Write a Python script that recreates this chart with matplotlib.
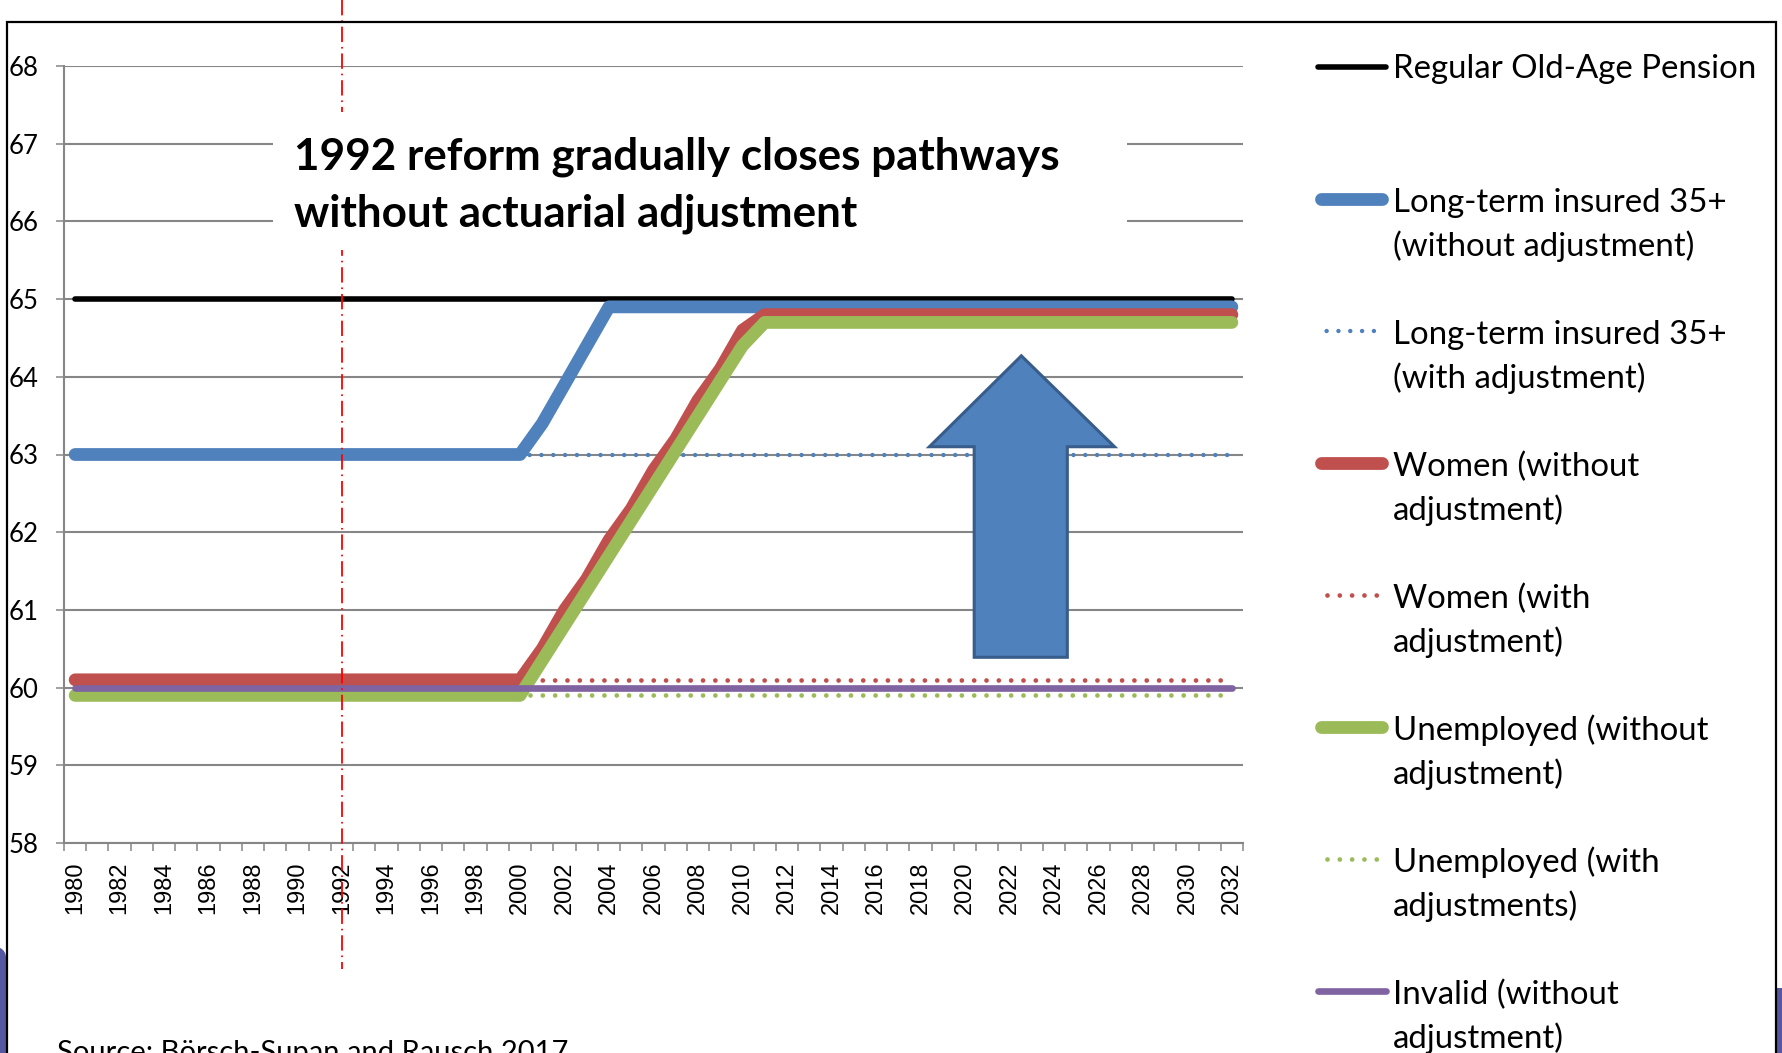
import matplotlib
matplotlib.use("Agg")
import matplotlib.pyplot as plt
import matplotlib.transforms as mtransforms
from matplotlib.lines import Line2D
from matplotlib.patches import Polygon, Rectangle, FancyBboxPatch

# ---------------------------------------------------------------- data
years = list(range(1980, 2033))          # category axis
tick_years = years[::2]
y_ticks = list(range(58, 69))

regular_x = [1980, 2032]
regular_y = [65.0, 65.0]

lt_x = [1980, 2000, 2001, 2002, 2003, 2004, 2032]
lt_y = [63.0, 63.0, 63.4, 63.9, 64.4, 64.9, 64.9]

lt_adj_x = [2000, 2032]
lt_adj_y = [63.0, 63.0]

women_x = [1980, 2000, 2001, 2002, 2003, 2004, 2005, 2006, 2007, 2008, 2009, 2010, 2011, 2032]
women_y = [60.1, 60.1, 60.5, 61.0, 61.4, 61.9, 62.3, 62.8, 63.2, 63.7, 64.1, 64.6, 64.8, 64.8]

women_adj_x = [2000, 2032]
women_adj_y = [60.1, 60.1]

unemp_x = [1980, 2000, 2001, 2002, 2003, 2004, 2005, 2006, 2007, 2008, 2009, 2010, 2011, 2032]
unemp_y = [59.9, 59.9, 60.35, 60.8, 61.25, 61.7, 62.15, 62.6, 63.05, 63.5, 63.95, 64.4, 64.7, 64.7]

unemp_adj_x = [2000, 2032]
unemp_adj_y = [59.9, 59.9]

invalid_x = [1980, 2032]
invalid_y = [60.0, 60.0]

reform_year = 1992

title = "1992 reform gradually closes pathways\nwithout actuarial adjustment"
source = "Source: Börsch-Supan and Rausch 2017"

labels = [
    "Regular Old-Age Pension",
    "Long-term insured 35+\n(without adjustment)",
    "Long-term insured 35+\n(with adjustment)",
    "Women (without\nadjustment)",
    "Women (with\nadjustment)",
    "Unemployed (without\nadjustment)",
    "Unemployed (with\nadjustments)",
    "Invalid (without\nadjustment)",
]

# ---------------------------------------------------------------- style
BLUE, RED, GREEN, PURPLE = "#4F81BD", "#C0504D", "#9BBB59", "#8064A2"
GRID = "#868686"
W, H = 1783, 1053
TEXT_FONT = ["Lato", "DejaVu Sans"]
THICK = 9.2
DOTS = (0.5, (0.01, 2.6))


def fx(px):
    return px / W


def fy(py):
    return 1 - py / H


def cat(xs):
    return [x - years[0] for x in xs]


fig = plt.figure(figsize=(W / 100, H / 100), dpi=100)
fig.patch.set_facecolor("white")

ax = fig.add_axes([fx(64), fy(843), fx(1243) - fx(64), fy(66) - fy(843)])
ax.set_xlim(-0.5, len(years) - 0.5)
ax.set_ylim(58, 68)

# series, in drawing order
solid = dict(solid_capstyle="round", solid_joinstyle="round")
dot_style = dict(dash_capstyle="round")
series = [
    (regular_x, regular_y, dict(color="black", lw=4.0, **solid)),
    (lt_x, lt_y, dict(color=BLUE, lw=THICK, **solid)),
    (lt_adj_x, lt_adj_y, dict(color=BLUE, lw=3.2, linestyle=(0.5, (0.01, 2.65)), **dot_style)),
    (women_x, women_y, dict(color=RED, lw=THICK, **solid)),
    (women_adj_x, women_adj_y, dict(color=RED, lw=3.4, linestyle=DOTS, **dot_style)),
    (unemp_x, unemp_y, dict(color=GREEN, lw=THICK, **solid)),
    (unemp_adj_x, unemp_adj_y, dict(color=GREEN, lw=3.4, linestyle=DOTS, **dot_style)),
    (invalid_x, invalid_y, dict(color=PURPLE, lw=4.8, **solid)),
]
for i, (xs, ys, kw) in enumerate(series):
    ax.plot(cat(xs), ys, zorder=3 + i * 0.1, **kw)

# axes and grid
for side in ("top", "right"):
    ax.spines[side].set_visible(False)
for side in ("left", "bottom"):
    ax.spines[side].set_color(GRID)
    ax.spines[side].set_linewidth(1.5)
ax.set_yticks(y_ticks)
ax.yaxis.grid(True, color=GRID, lw=1.5, zorder=1)
ax.set_axisbelow(True)
ax.tick_params(axis="y", length=6, width=1.1, color=GRID, pad=12,
               labelsize=18.5)
for lab in ax.get_yticklabels():
    lab.set_fontfamily(TEXT_FONT)

ax.set_xticks(cat(tick_years))
ax.set_xticklabels([str(y) for y in tick_years], rotation=90,
                   fontsize=17, fontfamily="Liberation Sans")
ax.set_xticks([i - 0.5 for i in range(len(years) + 1)], minor=True)
ax.tick_params(axis="x", which="major", length=0, pad=13.5)
ax.tick_params(axis="x", which="minor", length=5.5, width=1.1, color=GRID)

# reform marker: dash-dot line running past the plot area
blend = mtransforms.blended_transform_factory(ax.transData, fig.transFigure)
ax.plot([reform_year - years[0]] * 2, [1.0, fy(969)], transform=blend,
        color="red", lw=1.3, linestyle=(0, (8.5, 2.7, 0.9, 2.7)),
        clip_on=False, zorder=6)

# upward block arrow
arrow = Polygon(
    [(0.812, 0.627), (0.891, 0.510), (0.851, 0.510), (0.851, 0.239),
     (0.772, 0.239), (0.772, 0.510), (0.734, 0.510)],
    closed=True, transform=ax.transAxes, facecolor=BLUE,
    edgecolor="#385D8A", lw=2.2, zorder=7, joinstyle="miter")
ax.add_patch(arrow)

# headline on a white panel
fig.add_artist(Rectangle((fx(273), fy(250)), fx(1127) - fx(273), fy(112) - fy(250),
                         transform=fig.transFigure, facecolor="white",
                         edgecolor="none", zorder=5))
fig.text(fx(294), fy(226), title, fontsize=31.7, fontweight="bold",
         family=TEXT_FONT, va="baseline", ha="left", linespacing=1.48, zorder=6)

# legend drawn row by row
row_y = [67, 199, 331, 463, 595, 727, 859, 991]
line_gap = 46
for lab, (_, _, kw), ry in zip(labels, series, row_y):
    if "linestyle" in kw:
        x0, x1 = 1317, 1380
    elif kw["lw"] > 5:
        x0, x1 = 1321, 1382
    else:
        x0, x1 = 1318, 1386
    fig.add_artist(Line2D([fx(x0), fx(x1)], [fy(ry), fy(ry)],
                          transform=fig.transFigure, **kw))
    n_lines = lab.count("\n") + 1
    fig.text(fx(1393), fy(ry + 11 + (n_lines - 1) * line_gap), lab,
             fontsize=23.8, family=TEXT_FONT, va="baseline", ha="left",
             linespacing=1.48)

# source note at the foot
fig.text(fx(57), fy(1040), source, fontsize=21, family=TEXT_FONT,
         va="top", ha="left")

# surrounding frame and slide edge shapes
fig.add_artist(Rectangle((fx(7), fy(1100)), fx(1776) - fx(7), fy(22) - fy(1100),
                         transform=fig.transFigure, fill=False,
                         edgecolor="black", lw=1.6, zorder=8))
fig.add_artist(FancyBboxPatch((fx(-20), fy(1100)), fx(26), fy(945) - fy(1100),
                              boxstyle="round,pad=0,rounding_size=0.012",
                              transform=fig.transFigure, facecolor="#5558A0",
                              edgecolor="none", zorder=7))
fig.add_artist(Rectangle((fx(1777), fy(1100)), fx(30), fy(988) - fy(1100),
                         transform=fig.transFigure, facecolor="#5558A0",
                         edgecolor="none", zorder=7))

fig.savefig("out.png", dpi=100, facecolor="white")
